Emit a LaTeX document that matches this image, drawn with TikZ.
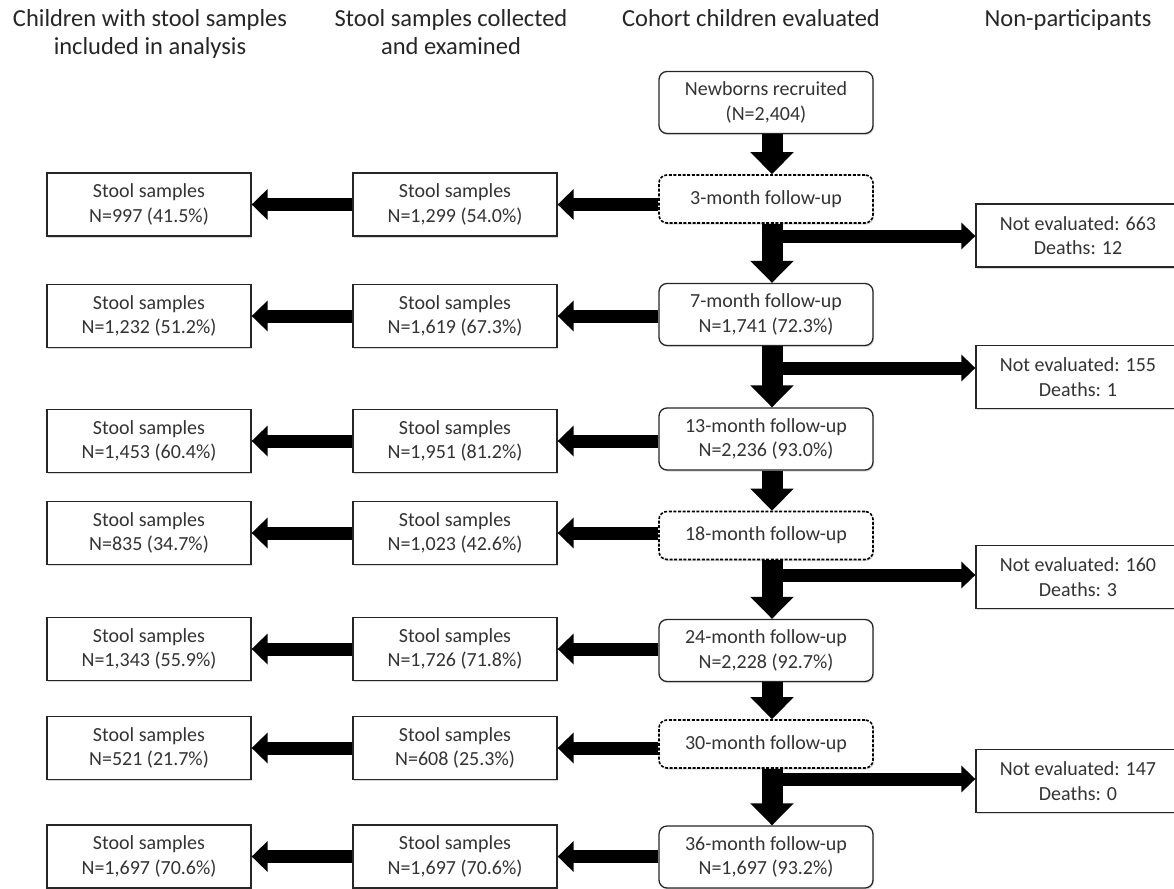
\documentclass[tikz,border=0pt]{standalone}
\usepackage{fontspec}
\setmainfont{Carlito}
\usetikzlibrary{arrows.meta, shadows}

\tikzset{
  sample/.style={draw=black!85, line width=1.3pt, fill=white,
    minimum width=204pt, minimum height=63pt, inner sep=0pt, align=center,
    font=\fontsize{20}{24.5}\selectfont, text=black!80,
    drop shadow={shadow xshift=1pt, shadow yshift=-1.5pt, opacity=.3}},
  visit/.style={sample, rounded corners=8pt, minimum width=214pt, minimum height=62pt},
  visitdash/.style={visit, draw=black, line width=1.6pt, dash pattern=on 3pt off 1.6pt, minimum height=48pt},
  header/.style={align=center, anchor=north, font=\fontsize{24.5}{28}\selectfont, text=black!85},
  downarrow/.style={line width=21pt, -{Triangle[length=22pt, width=42pt]}},
  leftarrow/.style={line width=13pt, -{Triangle[length=16pt, width=30pt]}},
  outarrow/.style={line width=13pt, -{Triangle[length=14pt, width=26pt]}}
}

\begin{document}
\begin{tikzpicture}[x=1pt, y=-1pt]
    \useasboundingbox (0,0) rectangle (1174,888);
    \fill[white] (0,0) rectangle (1174,888);
    \clip (0,0) rectangle (1174,888);

    % Column headers
    \node[header] (h1) at (150,6) {Children with stool samples\\included in analysis};
    \node[header] (h2) at (451,6) {Stool samples collected\\and examined};
    \node[header] (h3) at (751,6) {Cohort children evaluated};
    \node[header] (h4) at (1068,6) {Non-participants};

    % Cohort children evaluated
    \node[visit] (born) at (766,102.5) {Newborns recruited\\(N=2,404)};
    \node[visitdash] (f3) at (766,199) {3-month follow-up};
    \node[visit] (f7) at (766,314.5) {7-month follow-up\\N=1,741 (72.3\%)};
    \node[visit] (f13) at (766,439) {13-month follow-up\\N=2,236 (93.0\%)};
    \node[visitdash] (f18) at (766,535.5) {18-month follow-up};
    \node[visit] (f24) at (766,650.5) {24-month follow-up\\N=2,228 (92.7\%)};
    \node[visitdash] (f30) at (766,744) {30-month follow-up};
    \node[visit] (f36) at (766,857) {36-month follow-up\\N=1,697 (93.2\%)};

    % Stool samples collected and examined
    \node[sample] (s3) at (455,204.5) {Stool samples\\N=1,299 (54.0\%)};
    \node[sample] (s7) at (455,316) {Stool samples\\N=1,619 (67.3\%)};
    \node[sample] (s13) at (455,441) {Stool samples\\N=1,951 (81.2\%)};
    \node[sample] (s18) at (455,533) {Stool samples\\N=1,023 (42.6\%)};
    \node[sample] (s24) at (455,649) {Stool samples\\N=1,726 (71.8\%)};
    \node[sample] (s30) at (455,748) {Stool samples\\N=608 (25.3\%)};
    \node[sample] (s36) at (455,856.5) {Stool samples\\N=1,697 (70.6\%)};

    % Stool samples included in analysis
    \node[sample] (a3) at (149,204.5) {Stool samples\\N=997 (41.5\%)};
    \node[sample] (a7) at (149,316) {Stool samples\\N=1,232 (51.2\%)};
    \node[sample] (a13) at (149,441) {Stool samples\\N=1,453 (60.4\%)};
    \node[sample] (a18) at (149,533) {Stool samples\\N=835 (34.7\%)};
    \node[sample] (a24) at (149,649) {Stool samples\\N=1,343 (55.9\%)};
    \node[sample] (a30) at (149,748) {Stool samples\\N=521 (21.7\%)};
    \node[sample] (a36) at (149,856.5) {Stool samples\\N=1,697 (70.6\%)};

    % Non-participants (box runs off the right edge)
    \node[sample] (n1) at (1078,235.5) {Not evaluated: 663\\Deaths: 12};
    \node[sample] (n2) at (1078,377) {Not evaluated: 155\\Deaths: 1};
    \node[sample] (n3) at (1078,577) {Not evaluated: 160\\Deaths: 3};
    \node[sample] (n4) at (1078,781) {Not evaluated: 147\\Deaths: 0};

    % Follow-up chain
    \draw[downarrow] ([xshift=6pt]born.south) -- ([xshift=6pt]f3.north);
    \draw[downarrow] ([xshift=6pt]f3.south) -- ([xshift=6pt]f7.north);
    \draw[downarrow] ([xshift=6pt]f7.south) -- ([xshift=6pt]f13.north);
    \draw[downarrow] ([xshift=6pt]f13.south) -- ([xshift=6pt]f18.north);
    \draw[downarrow] ([xshift=6pt]f18.south) -- ([xshift=6pt]f24.north);
    \draw[downarrow] ([xshift=6pt]f24.south) -- ([xshift=6pt]f30.north);
    \draw[downarrow] ([xshift=6pt]f30.south) -- ([xshift=6pt]f36.north);

    % Branches to non-participants
    \coordinate (b1) at (772,236);
    \coordinate (b2) at (772,368);
    \coordinate (b3) at (772,575);
    \coordinate (b4) at (772,779);
    \draw[outarrow] (b1) -- (b1 -| n1.west);
    \draw[outarrow] (b2) -- (b2 -| n2.west);
    \draw[outarrow] (b3) -- (b3 -| n3.west);
    \draw[outarrow] (b4) -- (b4 -| n4.west);

    % Samples collected, then analysed
    \foreach \m in {3,7,13,18,24,30,36} {
        \draw[leftarrow] (f\m.west |- s\m.east) -- (s\m.east);
        \draw[leftarrow] (s\m.west) -- (a\m.east);
    }
\end{tikzpicture}
\end{document}
